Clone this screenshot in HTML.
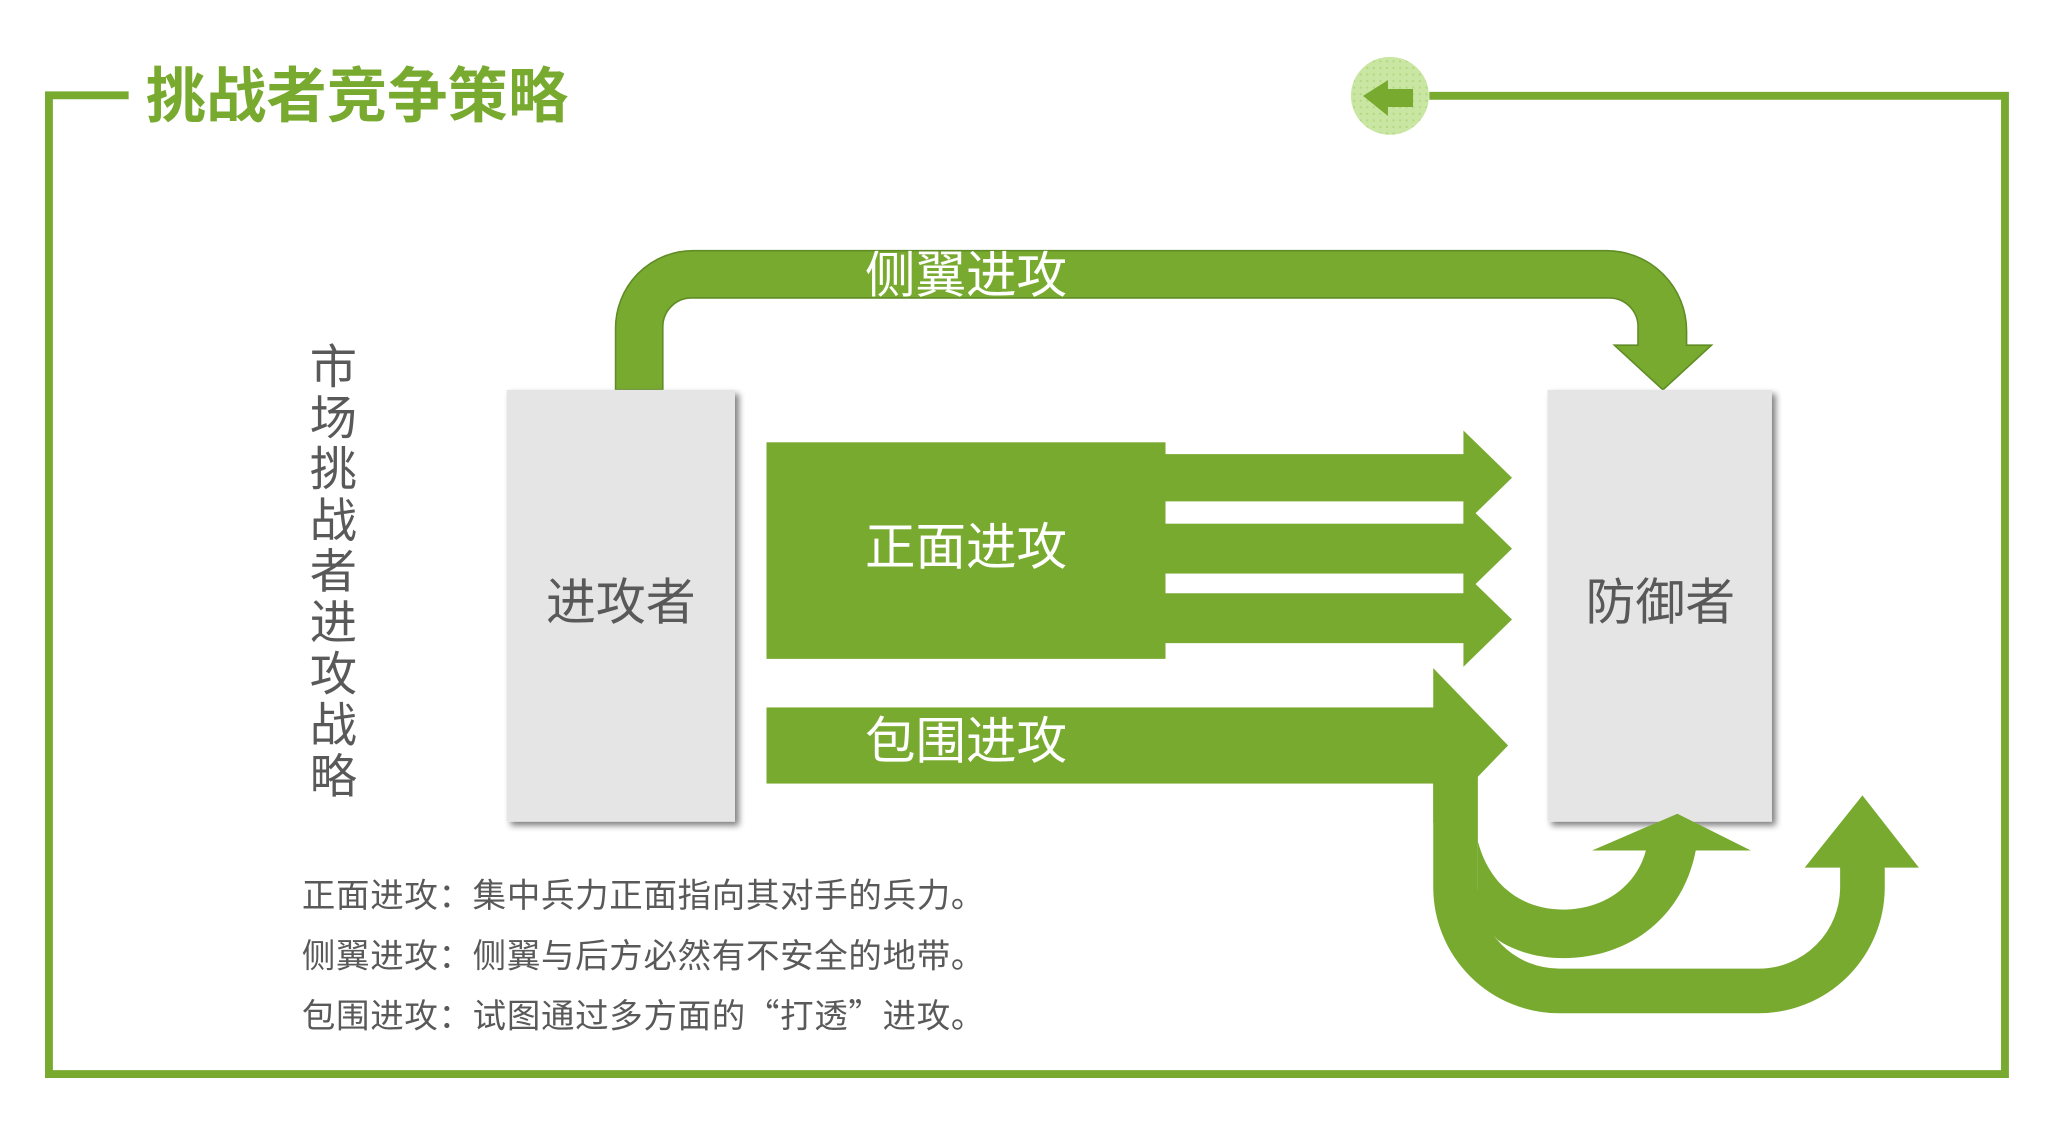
<!DOCTYPE html>
<html><head><meta charset="utf-8"><style>
html,body{margin:0;padding:0;background:#fff;}
svg{display:block;}
text{font-family:"Liberation Sans","Noto Sans CJK SC",sans-serif;}
.cjk{font-family:"Noto Sans CJK SC","Liberation Sans",sans-serif;}
</style></head><body>
<svg width="2058" height="1134" viewBox="0 0 1568 864" xmlns="http://www.w3.org/2000/svg">
<defs>
<filter id="sh" x="-10%" y="-10%" width="130%" height="130%">
<feGaussianBlur in="SourceAlpha" stdDeviation="2.5"/>
<feOffset dx="3" dy="3" result="b"/>
<feComponentTransfer><feFuncA type="linear" slope="0.5"/></feComponentTransfer>
<feMerge><feMergeNode/><feMergeNode in="SourceGraphic"/></feMerge>
</filter>
<pattern id="dots" width="5" height="5" patternUnits="userSpaceOnUse">
<rect width="5" height="5" fill="#c9e6a3"/><rect x="1" y="1" width="1.5" height="1.5" fill="#b2d880"/>
</pattern>
<clipPath id="flankclip"><path d="M469,297 L469,250 A59,59 0 0 1 528,191 L1224,191 A61,61 0 0 1 1285,252 L1285,263 L1304,263 L1267,297 L1230,263 L1248,263 L1248,250 A22,22 0 0 0 1226,227 L527,227 A22,22 0 0 0 505,249 L505,297 Z"/></clipPath>
</defs>

<polyline points="98,72.6 37.3,72.6 37.3,818.3 1527.6,818.3 1527.6,73 1089,73" fill="none" stroke="#78aa30" stroke-width="6"/>
<text x="111" y="89" font-size="46" font-weight="bold" fill="#78aa30">挑战者竞争策略</text>

<circle cx="1059" cy="73" r="29.7" fill="url(#dots)"/>
<polygon points="1038.5,73 1057.5,61 1057.5,67.8 1076.6,67.8 1076.6,81.5 1057.5,81.5 1057.5,88.4" fill="#78aa30"/>

<path d="M469,297 L469,250 A59,59 0 0 1 528,191 L1224,191 A61,61 0 0 1 1285,252 L1285,263 L1304,263 L1267,297 L1230,263 L1248,263 L1248,250 A22,22 0 0 0 1226,227 L527,227 A22,22 0 0 0 505,249 L505,297 Z" fill="#78aa30" stroke="#5f8c24" stroke-width="1.2"/>
<g clip-path="url(#flankclip)"><text x="659" y="223" font-size="38.5" fill="#fff">侧翼进攻</text></g>

<rect x="386" y="297" width="174" height="329" fill="#e5e5e5" filter="url(#sh)"/>
<rect x="1179" y="297" width="171" height="329" fill="#e5e5e5" filter="url(#sh)"/>
<text x="473" y="472" font-size="38" fill="#595959" text-anchor="middle">进攻者</text>
<text x="1265" y="472" font-size="38" fill="#595959" text-anchor="middle">防御者</text>

<rect x="584" y="337" width="304" height="165" fill="#78aa30"/>
<rect x="880" y="346" width="236" height="36" fill="#78aa30"/>
<polygon points="1115,328 1152,364 1115,400" fill="#78aa30"/>
<rect x="880" y="399" width="236" height="38" fill="#78aa30"/>
<polygon points="1115,382 1152,418 1115,454" fill="#78aa30"/>
<rect x="880" y="452" width="236" height="38" fill="#78aa30"/>
<polygon points="1115,436 1152,472 1115,508" fill="#78aa30"/>
<text x="659" y="430" font-size="38.5" fill="#fff">正面进攻</text>

<rect x="584" y="539" width="512" height="58" fill="#78aa30"/>
<polygon points="1092,509 1149,568 1092,627" fill="#78aa30"/>
<text x="659" y="578" font-size="38.5" fill="#fff">包围进攻</text>
<path d="M1109,590 L1109,676 A79,79 0 0 0 1188,755 L1340,755 A79,79 0 0 0 1419,676 L1419,655" fill="none" stroke="#78aa30" stroke-width="34"/>
<polygon points="1375,661 1419,606 1462,661" fill="#78aa30"/>
<path d="M1126,641 C1135,675 1160,693 1191,693 C1222,693 1247,675 1254,648 L1213,648 L1278,620 L1334,648 L1292,648 C1282,700 1240,730 1191,730 C1170,730 1153,724 1141,716 L1126,700 Z" fill="#78aa30"/>

<g font-size="36" fill="#595959" text-anchor="middle">
<text x="254" y="292">市</text>
<text x="254" y="331">场</text>
<text x="254" y="370">挑</text>
<text x="254" y="409">战</text>
<text x="254" y="448">者</text>
<text x="254" y="487">进</text>
<text x="254" y="526">攻</text>
<text x="254" y="565">战</text>
<text x="254" y="604">略</text>
</g>

<g font-size="25.5" fill="#595959">
<text class="cjk" x="230" y="691" textLength="520" lengthAdjust="spacing">正面进攻：集中兵力正面指向其对手的兵力。</text>
<text class="cjk" x="230" y="737" textLength="520" lengthAdjust="spacing">侧翼进攻：侧翼与后方必然有不安全的地带。</text>
<text class="cjk" x="230" y="783" textLength="520" lengthAdjust="spacing">包围进攻：试图通过多方面的“打透”进攻。</text>
</g>
</svg>
</body></html>
